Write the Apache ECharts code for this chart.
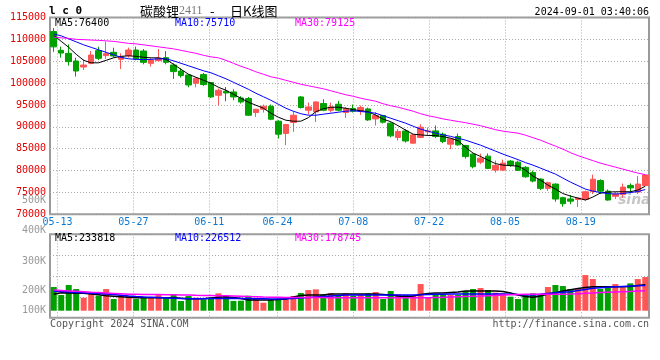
<!DOCTYPE html>
<html><head><meta charset="utf-8">
<script src="https://cdn.jsdelivr.net/npm/echarts@6/dist/echarts.min.js"></script>
<style>html,body{margin:0;padding:0;background:#fff}#c{width:660px;height:360px}</style>
</head><body><div id="c"></div>
<script>
const dates = ['05-10','05-13','05-14','05-15','05-16','05-17','05-20','05-21','05-22','05-23','05-24','05-27','05-28','05-29','05-30','05-31','06-03','06-04','06-05','06-06','06-07','06-11','06-12','06-13','06-14','06-17','06-18','06-19','06-20','06-21','06-24','06-25','06-26','06-27','06-28','07-01','07-02','07-03','07-04','07-05','07-08','07-09','07-10','07-11','07-12','07-15','07-16','07-17','07-18','07-19','07-22','07-23','07-24','07-25','07-26','07-29','07-30','07-31','08-01','08-02','08-05','08-06','08-07','08-08','08-09','08-12','08-13','08-14','08-15','08-16','08-19','08-20','08-21','08-22','08-23','08-26','08-27','08-28','08-29','08-30'];
const labelDates = ['05-13','05-27','06-11','06-24','07-08','07-22','08-05','08-19'];

const open  = [111780,107490,106805,105048,103679,104523,107421,106281,107034,105436,106281,107559,107330,104523,105139,105824,104135,102766,101854,99960,101945,100119,97221,98134,97975,96605,96468,93273,94026,94711,91288,88481,91001,96833,93798,93410,95327,93798,95167,93273,94186,93638,94095,91813,92589,90832,87568,89053,86267,87568,88846,89075,88321,86039,87797,85742,83757,81932,83300,80106,80106,82160,81917,80746,79535,78052,75930,76911,73800,73500,73374,73374,75199,77710,75290,74100,74515,76600,75086,76569];
const close = [108290,106870,104911,102766,104135,106417,105664,106737,106190,106052,107559,105504,104752,105277,105664,104752,102629,101716,99572,101100,99663,96833,98362,97746,96833,95692,92657,94026,94711,91744,88321,90535,92657,94414,94551,95692,93798,94551,93798,94186,93570,94414,91585,92589,91060,87934,88937,86770,88161,89918,89075,87797,86655,87249,85880,83190,80880,82844,80500,81206,81703,81246,80060,78578,77596,75930,77208,73488,72420,73000,73716,75153,78006,75290,73260,74629,76227,76040,76911,79010];
const low   = [107150,105820,104000,101488,102995,104295,105277,105504,105824,103223,105824,105208,104295,103770,104911,104295,100941,101260,99047,99047,99344,96605,94939,95852,96080,95326,92498,92269,93273,91516,87340,85811,88846,94185,92817,91128,93570,93273,93570,92041,93273,92725,91357,90307,90763,87600,86883,86400,86150,87409,88162,87409,86267,84899,85650,82740,80500,81475,80340,79535,79878,80860,79900,78350,77300,75550,75360,72872,71731,72300,71663,73146,74630,74630,73100,73488,73716,74800,74630,76455];
const high  = [112580,108330,108859,105824,105436,107330,108333,109475,108107,106805,108107,108333,107787,105664,107787,107330,104523,103383,102013,101260,102310,100256,98750,99115,98590,96993,96833,94100,95099,95099,91516,90672,93570,97061,95555,95852,96308,95555,95921,94551,95099,94870,94400,93342,92725,91060,89462,89500,88320,90603,89850,90307,88710,87409,88450,85880,83900,83872,83900,82274,82502,82388,82250,81018,80000,78210,77482,77071,74005,74400,73785,75427,79078,78006,75700,75086,77025,77070,78736,79125];

const ma5  = [110913,109544,108175,106577,105208,104637,104637,105208,105779,106121,106235,106121,105893,105779,105779,105436,104295,103154,102013,101329,100644,99959,99047,98362,97449,96536,95624,94939,94254,93113,92201,91516,91288,91288,92087,93456,94140,94483,94483,94254,93912,93684,93456,92657,91744,91174,90261,89234,88321,88161,88025,88025,87751,87408,86838,85355,83985,83232,82388,81589,81247,81133,81019,80106,78737,77824,76683,75770,74743,74173,73716,73260,73945,74858,75086,75155,75155,75155,75542,76410];
const ma10 = [111255,110799,110114,109430,108745,108175,107604,107034,106463,105893,105550,105436,105368,105436,105550,105550,105094,104523,103953,103382,102812,102356,101671,100987,100188,99389,98590,97677,96879,96080,95167,94254,93570,93000,92657,92657,92885,93113,93342,93570,93684,93501,93342,93113,92543,91972,91402,90831,90147,89462,89006,88549,88161,87819,87408,86952,86381,85811,85126,84442,83757,83141,82502,81817,81247,80562,79878,79193,78280,77368,76569,75770,75314,74972,74744,74629,74744,74972,75201,75657];
const ma30 = [110525,110342,110228,110000,109932,109840,109772,109658,109544,109316,109087,108973,108745,108517,108289,108061,107832,107490,107148,106805,106349,106007,105778,105208,104524,103839,103268,102584,102013,101443,101100,100644,100188,99731,99389,99047,98704,98248,97792,97335,96993,96536,96194,95852,95281,94825,94483,94026,93570,93000,92543,92201,91812,91516,91219,90946,90603,90261,89804,89348,89006,88778,88549,88093,87522,86952,86267,85583,84898,84100,83415,82844,82274,81703,81247,80791,80334,79878,79421,79079];

const volume = [213000,141000,231000,195000,117000,162000,135000,195000,105000,141000,132000,105000,126000,117000,148000,112000,148000,87000,132000,117000,100000,117000,156000,135000,88000,90000,135000,105000,72000,102000,102000,120000,132000,159000,186000,192000,147000,156000,141000,156000,135000,141000,156000,168000,105000,177000,147000,141000,135000,240000,117000,150000,141000,141000,141000,177000,195000,204000,186000,162000,156000,126000,105000,141000,156000,141000,213000,231000,222000,195000,195000,321000,285000,195000,207000,240000,210000,246000,285000,303000];
const volMa5  = [147600,162000,159300,157500,156600,150300,143100,135000,130500,126000,121500,117000,117000,117000,117000,117000,117000,112500,108000,108000,108000,114300,120600,126000,118800,109800,96300,96300,96300,96300,100800,105300,123300,136800,141300,141300,141300,150300,150300,150300,150300,150300,150300,150300,145800,141300,132300,126000,132300,145800,154800,159300,159300,163800,168300,177300,177300,177300,177300,177300,172800,159300,141300,127800,120600,132300,150300,162000,177300,189000,199800,208800,216000,216000,216000,216000,216000,217800,226800,233818];
const volMa10 = [175500,171900,168300,164700,161100,157500,153900,150300,144900,138600,132300,126900,123300,120600,117900,115200,112500,109800,108000,108000,108000,108900,109800,110700,111600,110700,109800,108000,107100,105300,105300,107100,109800,114300,118800,123300,127800,132300,136800,141300,141300,141300,141300,141300,141300,141300,141300,141300,141300,143100,145800,147600,148500,150300,150300,150300,150300,150300,150300,150300,150300,147600,144900,143100,141300,147600,154800,161100,166500,171000,181800,191700,201600,207000,211500,215100,218700,221400,224100,226512];
const volMa30 = [185400,181800,178200,174600,171000,166500,162900,159300,155700,152100,148500,147600,146700,145800,144900,144000,143100,141300,140400,138600,137700,136800,135000,134100,132300,130500,127800,126000,123300,121500,120600,119700,119700,119700,119700,119700,119700,116100,116100,116100,116100,116100,116100,116100,116100,116100,116100,116100,116100,116100,116100,117900,119700,122400,125100,127800,130500,132300,135000,137700,140400,143100,145800,147600,148500,148500,148500,148500,148500,150300,153000,156600,160200,162900,165600,168300,171000,173700,176400,178745];

const volTickLabels = ['500K','400K','300K','200K','100K'];
const mainHeader = ['MA5:76400','MA10:75710','MA30:79125'];
const volHeader = ['MA5:233818','MA10:226512','MA30:178745'];
const titleParts = ['碳酸锂','2411','-','日K线图'];

const RED = '#ff5555', GREEN = '#00a000';
const MONO = 'DejaVu Sans Mono';
const GRIDC = '#aaaaaa';
const DOT = { color: GRIDC, type: [1, 2], width: 1 };

const candle = dates.map((d, i) => [open[i], close[i], low[i], high[i]]);
const volData = volume.map((v, i) => ({ value: v, itemStyle: { color: close[i] >= open[i] ? RED : GREEN } }));
const isLabelDate = (i, v) => labelDates.indexOf(v) >= 0;

function maLine(name, data, color, xi, yi, w) {
  return { name, type: 'line', data, xAxisIndex: xi, yAxisIndex: yi, showSymbol: false, symbol: 'none',
    lineStyle: { color, width: w }, itemStyle: { color }, silent: true, animation: false, z: 3 };
}
function txt(text, x, y, fill, font, align) {
  return { type: 'text', silent: true, z: 10, style: { text, x, y, fill, font, align: align || 'left', verticalAlign: 'middle' } };
}
const hiddenCat = (gi, bg) => ({ type: 'category', gridIndex: gi, data: dates, boundaryGap: bg,
  axisLine: { show: false }, axisTick: { show: false }, axisLabel: { show: false }, splitLine: { show: false } });

const volLabelY = [200, 230.7, 261, 290, 310.7];
const graphics = [
  txt('l c 0', 49, 11, '#000', 'bold 11px ' + MONO),
  txt(titleParts[0], 140, 11, '#000', '13px "Noto Sans CJK SC"'),
  txt(titleParts[1], 179, 11, '#777', '12px "Liberation Serif"'),
  txt(titleParts[2], 210, 11, '#000', '13px "Noto Sans CJK SC"'),
  txt(titleParts[3], 230, 11, '#000', '13px "Noto Sans CJK SC"'),
  txt('2024-09-01 03:40:06', 649, 12, '#000', '10px ' + MONO, 'right'),
  txt(mainHeader[0], 55, 23.7, '#000', '10px ' + MONO),
  txt(mainHeader[1], 175, 23.7, '#0000ff', '10px ' + MONO),
  txt(mainHeader[2], 295, 23.7, '#ff00ff', '10px ' + MONO),
  txt(volHeader[0], 55, 238.5, '#000', '10px ' + MONO),
  txt(volHeader[1], 175, 238.5, '#0000ff', '10px ' + MONO),
  txt(volHeader[2], 295, 238.5, '#ff00ff', '10px ' + MONO),
  txt('Copyright 2024 SINA.COM', 50, 324, '#555', '10px ' + MONO),
  txt('http://finance.sina.com.cn', 649, 324, '#555', '10px ' + MONO, 'right'),
  txt('sina', 618, 200, 'rgba(150,150,150,0.55)', 'italic bold 14px "DejaVu Sans"')
].concat(volTickLabels.map((t, k) => txt(t, 46, volLabelY[k], '#999', '10px ' + MONO, 'right')));

const chart = echarts.init(document.getElementById('c'), null, { renderer: 'canvas' });
chart.setOption({
  animation: false,
  backgroundColor: '#fff',
  grid: [
    { left: 50, top: 17.5, width: 599, height: 196.8, show: true, borderColor: '#9a9a9a', borderWidth: 2, backgroundColor: 'transparent', outerBoundsMode: 'none' },
    { left: 50, top: 234.3, width: 599, height: 76.4, show: false, outerBoundsMode: 'none' },
    { left: 50, top: 234.3, width: 599, height: 83.4, show: true, borderColor: '#9a9a9a', borderWidth: 2, backgroundColor: 'transparent', outerBoundsMode: 'none' }
  ],
  xAxis: [
    hiddenCat(0, true),
    { type: 'category', gridIndex: 0, data: dates, boundaryGap: false, position: 'bottom',
      axisLine: { show: false }, axisTick: { show: false },
      splitLine: { show: true, interval: isLabelDate, lineStyle: DOT },
      axisLabel: { interval: isLabelDate, color: '#0a78d2', fontFamily: MONO, fontSize: 10, margin: 3, hideOverlap: false } },
    hiddenCat(1, true),
    { type: 'category', gridIndex: 2, data: dates, boundaryGap: false,
      axisLine: { show: false }, axisTick: { show: false }, axisLabel: { show: false },
      splitLine: { show: true, interval: isLabelDate, lineStyle: DOT } }
  ],
  yAxis: [
    { type: 'value', gridIndex: 0, min: 70000, max: 115000, interval: 5000,
      axisLine: { show: false }, axisTick: { show: false },
      axisLabel: { formatter: v => String(v), color: '#e60000', fontFamily: MONO, fontSize: 10, margin: 4, showMinLabel: true, showMaxLabel: true },
      splitLine: { lineStyle: DOT } },
    { type: 'value', gridIndex: 1, min: 0, max: 687600, show: false },
    { type: 'value', gridIndex: 2, min: 0, max: 4, interval: 1,
      axisLine: { show: false }, axisTick: { show: false }, axisLabel: { show: false },
      splitLine: { lineStyle: DOT } }
  ],
  series: [
    { name: 'K', type: 'candlestick', xAxisIndex: 0, yAxisIndex: 0, data: candle, barWidth: 6, silent: true,
      itemStyle: { color: RED, color0: GREEN, borderColor: RED, borderColor0: GREEN, borderWidth: 1 }, z: 2 },
    maLine('MA5', ma5, '#000000', 0, 0, 1),
    maLine('MA10', ma10, '#0000ff', 0, 0, 1),
    maLine('MA30', ma30, '#ff00ff', 0, 0, 1),
    { name: 'VOL', type: 'bar', xAxisIndex: 2, yAxisIndex: 1, data: volData, barWidth: 6, silent: true, z: 2 },
    maLine('VMA5', volMa5, '#000000', 2, 1, 1.5),
    maLine('VMA10', volMa10, '#0000ff', 2, 1, 1.5),
    maLine('VMA30', volMa30, '#ff00ff', 2, 1, 1.5)
  ],
  graphic: graphics
});
</script>
</body></html>
